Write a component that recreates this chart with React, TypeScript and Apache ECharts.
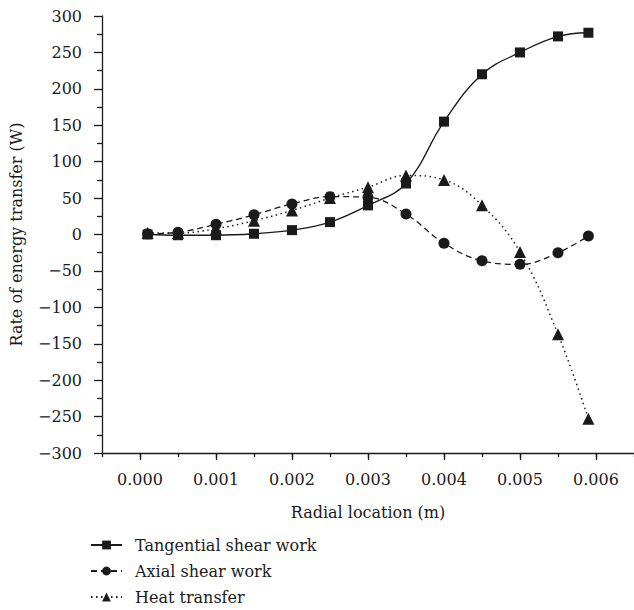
import React, { useEffect, useRef } from "react";
import * as echarts from "echarts";

const xValues = [0.0001, 0.0005, 0.001, 0.0015, 0.002, 0.0025, 0.003, 0.0035, 0.004, 0.0045, 0.005, 0.0055, 0.0059];
const tangentialShear = [0, -1, -1, 1, 6, 17, 40, 70, 155, 220, 250, 272, 277];
const axialShear = [1, 3, 14, 27, 42, 52, 51, 28, -12, -36, -41, -25, -2];
const heatTransfer = [2, 2, 8, 19, 33, 50, 65, 81, 75, 40, -24, -137, -253];
const xMajorTicks = [0, 0.001, 0.002, 0.003, 0.004, 0.005, 0.006];
const seriesNames = ["Tangential shear work", "Axial shear work", "Heat transfer"];

const FONT = "DejaVu Serif";
const INK = "#1a1a1a";

function pairs(ys: number[]) {
  return xValues.map((x, i) => [x, ys[i]]);
}

export default function App() {
  const ref = useRef<HTMLDivElement>(null);
  useEffect(() => {
    if (!ref.current) return;
    const chart = echarts.init(ref.current, undefined, { renderer: "svg" });
    const axisLine = { show: true, onZero: false, lineStyle: { color: INK, width: 1.3 } };
    chart.setOption({
      animation: false,
      backgroundColor: "#ffffff",
      textStyle: { fontFamily: FONT, color: INK },
      grid: { left: 101, top: 16, width: 535, height: 437, containLabel: false },
      legend: {
        orient: "vertical",
        left: 90,
        top: 537,
        padding: 0,
        itemWidth: 31,
        itemHeight: 11,
        itemGap: 10,
        data: seriesNames,
        textStyle: { fontFamily: FONT, fontSize: 16, color: INK, padding: [0, 0, 0, 8] },
      },
      xAxis: [
        {
          type: "value",
          min: -0.0005,
          max: 0.0065,
          name: "Radial location (m)",
          nameLocation: "middle",
          nameGap: 51,
          nameTextStyle: { fontFamily: FONT, fontSize: 16, color: INK },
          axisLine,
          splitLine: { show: false },
          axisTick: { show: true, length: 7, customValues: xMajorTicks, lineStyle: { color: INK, width: 1.3 } },
          axisLabel: {
            show: true,
            customValues: xMajorTicks,
            margin: 18,
            fontFamily: FONT,
            fontSize: 16,
            color: INK,
            formatter: (v: number) => v.toFixed(3),
          },
        },
        {
          type: "value",
          min: -0.0005,
          max: 0.0065,
          interval: 0.0005,
          position: "bottom",
          axisLine: { show: false, onZero: false },
          splitLine: { show: false },
          axisTick: { show: true, length: 4, lineStyle: { color: INK, width: 1.3 } },
          axisLabel: { show: false },
        },
      ],
      yAxis: {
        type: "value",
        min: -300,
        max: 300,
        interval: 50,
        name: "Rate of energy transfer (W)",
        nameLocation: "middle",
        nameGap: 78,
        nameTextStyle: { fontFamily: FONT, fontSize: 16, color: INK },
        axisLine,
        splitLine: { show: false },
        axisTick: { show: true, length: 8, lineStyle: { color: INK, width: 1.3 } },
        minorTick: { show: true, splitNumber: 2, length: 5, lineStyle: { color: INK, width: 1.3 } },
        axisLabel: {
          margin: 20,
          fontFamily: FONT,
          fontSize: 16,
          color: INK,
          formatter: (v: number) => (v < 0 ? "\u2212" + Math.abs(v) : String(v)),
        },
      },
      series: [
        {
          name: seriesNames[0],
          type: "line",
          data: pairs(tangentialShear),
          smooth: 0.4,
          symbol: "rect",
          symbolSize: 10,
          itemStyle: { color: INK },
          lineStyle: { color: INK, width: 1.3, type: "solid" },
          z: 4,
        },
        {
          name: seriesNames[1],
          type: "line",
          data: pairs(axialShear),
          smooth: 0.4,
          symbol: "circle",
          symbolSize: 11,
          itemStyle: { color: INK },
          lineStyle: { color: INK, width: 1.3, type: [6, 4] },
          z: 3,
        },
        {
          name: seriesNames[2],
          type: "line",
          data: pairs(heatTransfer),
          smooth: 0.4,
          symbol: "triangle",
          symbolSize: 12,
          itemStyle: { color: INK },
          lineStyle: { color: INK, width: 1.5, type: [1.5, 3.5] },
          z: 2,
        },
      ],
    });
    return () => chart.dispose();
  }, []);
  return (
    <div
      ref={ref}
      style={{ position: "fixed", left: 0, top: 0, width: 634, height: 610, background: "#fff" }}
    />
  );
}
